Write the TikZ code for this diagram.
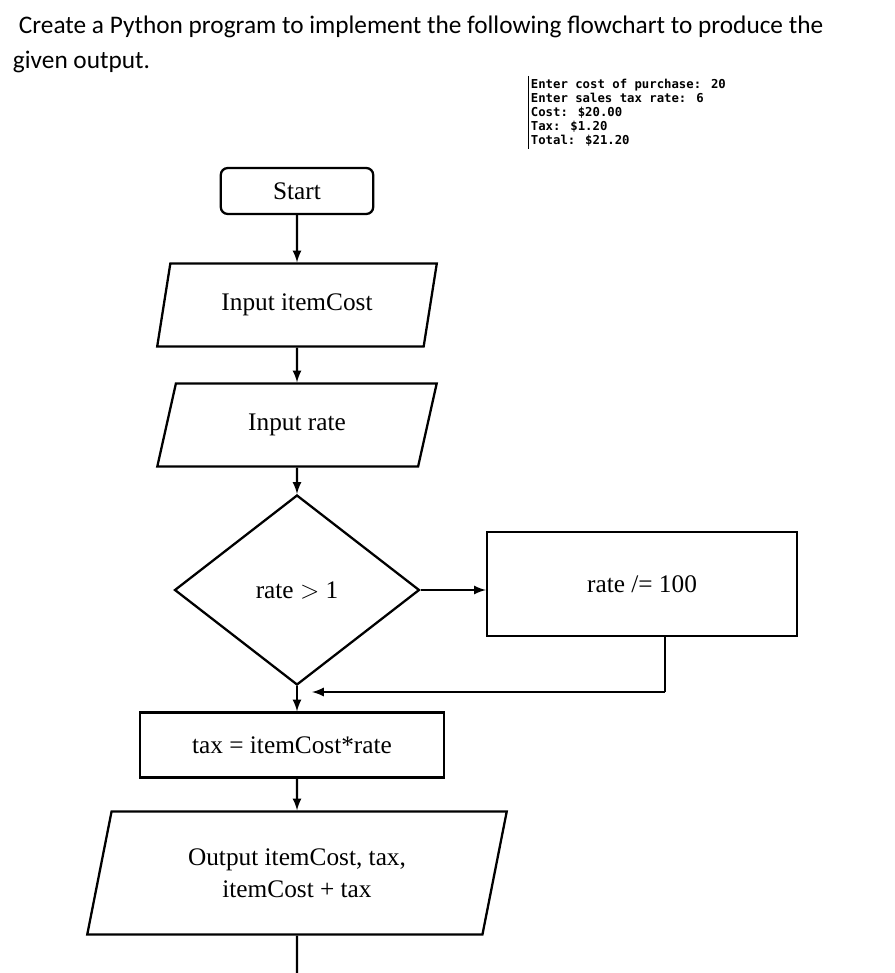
\documentclass[tikz,border=0pt]{standalone}
\usepackage{fontspec}
\setmainfont{Liberation Serif}
\newfontfamily\titlefont{Carlito}
\newfontfamily\consolefont{DejaVu Sans Mono}
\usetikzlibrary{shapes.geometric,positioning}

\begin{document}
\begin{tikzpicture}[x=0.02cm,y=-0.02cm,font=\Large,line width=1.3pt]
    \tikzset{
        term/.style={draw,rounded corners=4pt,minimum width=3.05cm,minimum height=0.92cm},
        io/.style={draw,trapezium,trapezium left angle=76,trapezium right angle=104,
            minimum width=5.6cm,minimum height=1.66cm,trapezium stretches=true},
        proc/.style={draw,rectangle},
        test/.style={draw,diamond,minimum width=4.9cm,minimum height=3.8cm},
        flow/.style={->,>=latex}
    }
    \useasboundingbox (0,0) rectangle (895,973);

    % heading and sample output
    \node[anchor=west,font=\titlefont\Large] (title1) at (12,27)
        {Create a Python program to implement the following flowchart to produce the};
    \node[anchor=west,font=\titlefont\Large] (title2) at (6,62) {given output.};
    \node[anchor=north west,font=\consolefont\bfseries\scriptsize,align=left,inner sep=1pt] (console) at (528,76)
        {Enter cost of purchase: 20\\Enter sales tax rate: 6\\Cost: \$20.00\\Tax: \$1.20\\Total: \$21.20};
    \draw[line width=0.5pt] (console.north west) -- (console.south west);

    % flowchart
    \node[term] (start) at (297,191) {Start};
    \node[io] (incost) at (297,305) {Input itemCost};
    \node[io] (inrate) at (297,425) {Input rate};
    \node[test] (check) at (297,590) {rate $>$ 1};
    \node[proc,minimum width=6.2cm,minimum height=2.08cm] (divide) at (642,584) {rate /= 100};
    \node[proc,minimum width=6.08cm,minimum height=1.3cm] (tax) at (292,745) {tax = itemCost*rate};
    \node[io,minimum width=8.4cm,minimum height=2.46cm,align=center] (output) at (297,873)
        {Output itemCost, tax,\\itemCost + tax};
    \coordinate (merge) at (297,692);
    \coordinate (turn) at (665,692);
    \coordinate (end) at (297,973);

    \draw[flow] (start) -- (incost);
    \draw[flow] (incost) -- (inrate);
    \draw[flow] (inrate) -- (check);
    \draw[flow] (check.east) -- (check.east -| divide.west);
    \draw (divide.south -| turn) -- (turn);
    \draw[flow] (turn) -- ([xshift=0.3cm]merge);
    \draw[flow] (check.south) -- (check.south |- tax.north);
    \draw[flow] (tax.south -| check) -- (output);
    \draw (output) -- (end);
\end{tikzpicture}
\end{document}
